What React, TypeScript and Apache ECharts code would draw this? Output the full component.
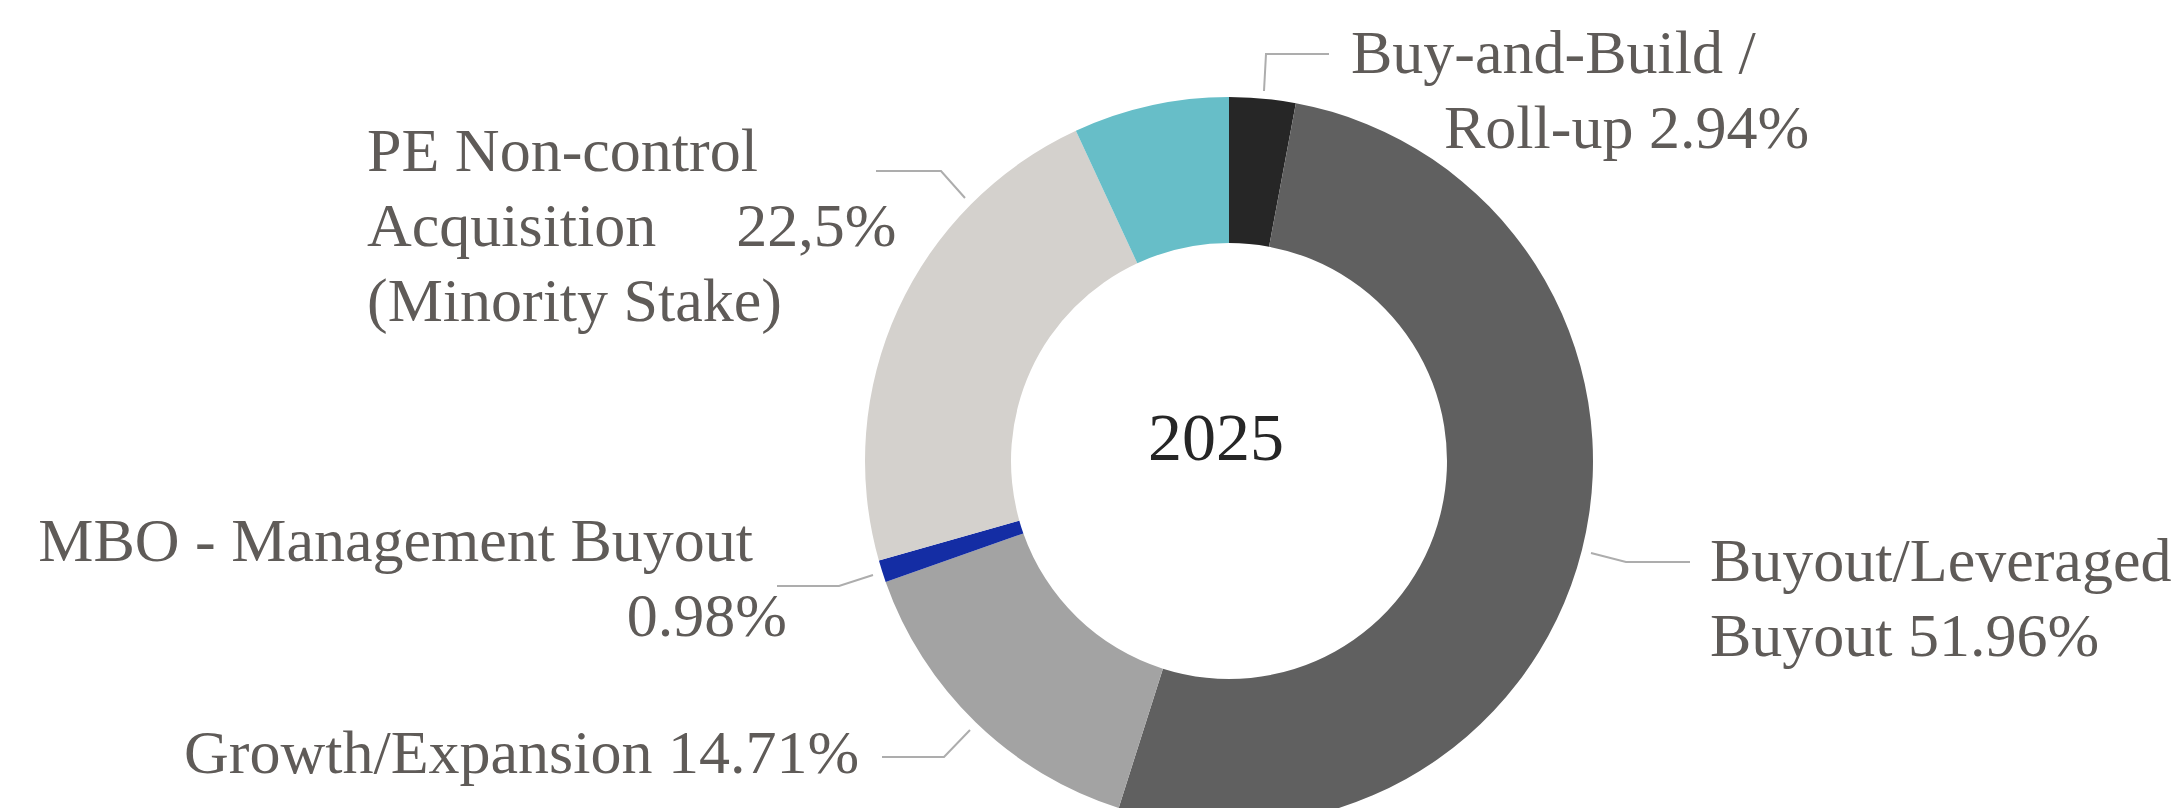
import React, { useEffect, useRef } from 'react';
import * as echarts from 'echarts';

// ---- data ----
const categories = [
  'Buy-and-Build / Roll-up',
  'Buyout/Leveraged Buyout',
  'Growth/Expansion',
  'MBO - Management Buyout',
  'PE Non-control Acquisition (Minority Stake)',
  'Other',
];
const shares = [2.94, 51.96, 14.71, 0.98, 22.5, 6.91];
const shareLabels = ['2.94%', '51.96%', '14.71%', '0.98%', '22,5%', ''];
const sliceColors = ['#262626', '#606060', '#a3a3a3', '#142da4', '#d4d1cd', '#67bec8'];
const centerLabel = '2025';

// ---- layout (label placement only) ----
const FONT = '"Liberation Serif", "Times New Roman", serif';
const TEXT_COLOR = '#5f5b58';
type LL = { x: number; y: number; align: 'left' | 'right'; pts: number[][] } | null;
const labelPlacement: LL[] = [
  { x: 1351, y: 89, align: 'left', pts: [[1264, 91], [1266, 54], [1329, 54]] },
  { x: 1710, y: 597, align: 'left', pts: [[1591, 553], [1626, 562], [1690, 562]] },
  { x: 184, y: 752, align: 'left', pts: [[970, 730], [944, 757], [882, 757]] },
  { x: 787, y: 577, align: 'right', pts: [[873, 575], [839, 586], [777, 586]] },
  { x: 367, y: 225, align: 'left', pts: [[965, 198], [941, 171], [876, 171]] },
  null,
];

const base = { fontSize: 62, fontFamily: FONT, color: TEXT_COLOR, lineHeight: 75 };

function formatLabel(p: any): string {
  const i = p.dataIndex;
  const v = shareLabels[i];
  switch (i) {
    case 0:
      return `{t|Buy-and-Build /}\n{ind|Roll-up ${v}}`;
    case 1:
      return `{t|Buyout/Leveraged}\n{t|Buyout ${v}}`;
    case 2:
      return `{t|Growth/Expansion ${v}}`;
    case 3:
      return `{pr|MBO - Management Buyout}\n{t|${v}}`;
    case 4:
      return `{t|PE Non-control}\n{t|Acquisition}{gap|${v}}\n{t|(Minority Stake)}`;
    default:
      return '';
  }
}

export default function App() {
  const ref = useRef<HTMLDivElement>(null);
  useEffect(() => {
    if (!ref.current) return;
    const chart = echarts.init(ref.current, null, { renderer: 'svg' });
    const data = categories.map((name, i) => ({
      name,
      value: shares[i],
      itemStyle: { color: sliceColors[i] },
      label: { show: labelPlacement[i] !== null },
      labelLine: { show: labelPlacement[i] !== null },
    }));
    chart.setOption({
      animation: false,
      backgroundColor: '#ffffff',
      series: [
        {
          type: 'pie',
          center: [1229, 461],
          radius: [218, 364],
          startAngle: 90,
          clockwise: true,
          avoidLabelOverlap: false,
          silent: true,
          emphasis: { disabled: true },
          itemStyle: { borderWidth: 0 },
          label: {
            show: true,
            position: 'outside',
            formatter: formatLabel,
            ...base,
            rich: {
              t: { ...base },
              ind: { ...base, padding: [0, 0, 0, 93] },
              pr: { ...base, padding: [0, 34, 0, 0] },
              gap: { ...base, padding: [0, 0, 0, 80] },
            },
          },
          labelLine: {
            show: true,
            lineStyle: { color: '#adadad', width: 2 },
          },
          labelLayout: (params: any) => {
            const L = labelPlacement[params.dataIndex];
            if (!L) return {};
            return {
              x: L.x,
              y: L.y,
              align: L.align,
              verticalAlign: 'middle',
              labelLinePoints: L.pts,
            };
          },
          data,
        },
      ],
      graphic: [
        {
          type: 'text',
          x: 1216,
          y: 437,
          silent: true,
          style: {
            text: centerLabel,
            fontSize: 68,
            fontFamily: FONT,
            fill: '#262626',
            textAlign: 'center',
            textVerticalAlign: 'middle',
          },
        },
      ],
    });
    return () => chart.dispose();
  }, []);
  return (
    <div
      ref={ref}
      style={{ position: 'fixed', left: 0, top: 0, width: 2184, height: 808, background: '#fff' }}
    />
  );
}
